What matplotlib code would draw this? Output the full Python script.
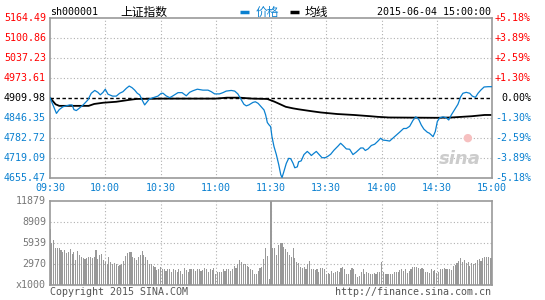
import matplotlib
matplotlib.use("Agg")
import matplotlib.pyplot as plt
import matplotlib.transforms as mtransforms
from matplotlib.lines import Line2D

# ---- data (minutes since 09:30, lunch break removed; 120 = 11:30/13:00) ----
PREV_CLOSE = 4909.98

price_minutes = [0, 2, 3.5, 5, 7, 10.7, 12, 13, 14.3, 16, 18, 20.6, 22.4, 24.3, 26, 27.3,
                 28.8, 30, 31.5, 34, 36, 37.8, 39.6, 41.5, 43, 44.5, 46, 47.4, 48.7, 50,
                 51.4, 52.8, 54, 56.5, 58.6, 60.4, 61.4, 63, 65, 66.8, 69.5, 71.7, 74,
                 75.8, 77.6, 80, 83, 85.8, 87.6, 89.4, 92, 93.9, 95.7, 98.4, 100.3, 102,
                 103.9, 105.3, 106.6, 108, 110.2, 111.5, 113, 114.7, 116.2, 117.1, 118,
                 119, 119.8, 120.5, 121.6, 122.9, 124.2, 125.3, 126, 127, 128.3, 129.6,
                 130.7, 132, 132.9, 134.3, 135, 136.4, 137.9, 139.7, 141, 141.9, 143.3,
                 144.6, 146, 147.7, 149.5, 151, 152.4, 154.2, 156.4, 157.8, 159.1, 160.9,
                 162.7, 164.5, 166.3, 168.7, 170, 171.2, 172.7, 174.5, 176.3, 178.1,
                 179.5, 180.8, 182.5, 184.4, 187.1, 189.8, 192, 193.5, 195.3, 197.1,
                 198.6, 200.2, 201.6, 203, 204.9, 206, 208, 209.2, 210.3, 211.6, 213.4,
                 215.2, 216.5, 217.9, 220.1, 221.5, 223, 224.2, 226, 227.9, 229.3, 231,
                 232.4, 233.9, 235.7, 237.9, 240]
price_values = [4911, 4882, 4861, 4873, 4882, 4888, 4888, 4873, 4870, 4878, 4888, 4904,
                4925, 4934, 4928, 4920, 4928, 4938, 4922, 4916, 4916, 4925, 4930, 4941,
                4948, 4943, 4935, 4925, 4920, 4904, 4888, 4898, 4907, 4912, 4916, 4925,
                4925, 4917, 4911, 4917, 4927, 4927, 4917, 4928, 4933, 4938, 4935, 4935,
                4930, 4923, 4923, 4927, 4932, 4934, 4932, 4923, 4904, 4890, 4885, 4888,
                4896, 4898, 4893, 4882, 4872, 4856, 4832, 4824, 4819, 4788, 4756, 4730,
                4698, 4666, 4657, 4676, 4702, 4718, 4717, 4702, 4688, 4691, 4707, 4710,
                4730, 4740, 4733, 4727, 4734, 4740, 4731, 4720, 4720, 4725, 4731, 4744,
                4757, 4766, 4759, 4748, 4747, 4730, 4738, 4751, 4751, 4743, 4748, 4759,
                4763, 4773, 4782, 4776, 4775, 4773, 4787, 4801, 4813, 4813, 4820, 4839,
                4850, 4842, 4824, 4811, 4801, 4798, 4787, 4803, 4835, 4847, 4850, 4847,
                4840, 4856, 4877, 4890, 4914, 4925, 4928, 4925, 4916, 4912, 4925, 4935,
                4945, 4946, 4946]

avg_minutes = [0, 3, 5, 21, 24, 29, 36, 43, 47, 60, 90, 96, 103, 110, 118, 122, 125,
               128, 132, 135, 142, 147, 156, 165, 174, 178, 184, 210, 218, 229, 236, 240]
avg_values = [4911, 4890, 4885, 4885, 4891, 4895, 4898, 4904, 4907, 4908, 4908, 4911,
              4911, 4908, 4907, 4898, 4890, 4882, 4877, 4874, 4868, 4864, 4859, 4856,
              4852, 4850, 4848, 4847, 4848, 4852, 4856, 4856]

# volume per minute, in thousands (index = minute)
volume = [7.9, 6.0, 6.4, 5.3, 5.3, 5.2, 5.0, 4.6, 5.0, 4.5,
          4.7, 5.1, 4.4, 4.7, 3.6, 4.8, 4.3, 4.0, 3.8, 3.7,
          3.8, 3.9, 3.9, 3.8, 4.0, 5.0, 3.7, 4.2, 4.4, 3.5,
          3.2, 2.9, 4.0, 3.2, 2.9, 3.1, 3.0, 2.7, 2.8, 3.0,
          3.4, 4.1, 4.5, 4.7, 4.7, 4.0, 3.8, 3.5, 3.9, 4.3,
          4.8, 4.3, 3.9, 3.6, 3.0, 2.9, 2.7, 2.5, 2.1, 2.3,
          2.5, 2.3, 2.2, 2.0, 2.3, 2.2, 1.8, 2.3, 2.1, 1.8,
          2.2, 2.0, 1.6, 2.4, 2.1, 1.9, 2.2, 2.2, 2.2, 2.0,
          2.3, 2.2, 2.0, 2.1, 2.4, 2.2, 1.9, 2.3, 2.1, 2.4,
          1.5, 1.8, 1.9, 1.9, 2.2, 2.0, 2.3, 2.2, 2.0, 2.2,
          2.7, 2.4, 3.0, 3.6, 3.2, 3.0, 3.0, 2.7, 2.5, 2.3,
          2.1, 1.6, 1.5, 2.0, 2.4, 2.6, 3.7, 5.2, 4.1, 0.8,
          11.879,
          5.2, 5.2, 4.2, 5.7, 6.0, 5.9, 5.4, 5.1, 4.7, 4.2,
          4.0, 5.2, 3.8, 3.3, 3.1, 2.6, 2.4, 2.5, 2.2, 2.9,
          3.4, 2.3, 2.2, 2.1, 2.2, 1.9, 2.4, 2.4, 2.2, 1.5,
          1.7, 1.6, 2.0, 1.7, 1.8, 2.0, 1.8, 2.4, 2.5, 2.2,
          1.6, 1.6, 2.1, 2.4, 2.2, 1.5, 1.2, 1.3, 1.9, 2.2,
          1.6, 1.8, 1.7, 1.6, 1.6, 1.7, 1.5, 1.8, 1.9, 3.2,
          1.8, 1.5, 1.5, 1.5, 1.5, 1.6, 1.9, 1.9, 1.9, 2.1,
          2.2, 2.0, 2.2, 1.7, 2.0, 2.2, 2.6, 2.5, 2.6, 2.4,
          2.2, 2.4, 2.2, 1.8, 1.9, 1.7, 2.2, 2.0, 2.1, 1.7,
          1.9, 2.2, 2.3, 2.4, 2.2, 2.2, 2.2, 2.1, 2.7, 2.8,
          3.1, 3.4, 3.8, 3.3, 3.6, 3.1, 3.2, 2.7, 3.1, 3.0,
          3.1, 3.5, 3.7, 3.4, 3.8, 3.9, 3.9, 3.9, 3.8, 3.8]

price_levels = [5164.49, 5100.86, 5037.23, 4973.61, 4909.98, 4846.35, 4782.72, 4719.09, 4655.47]
pct_labels = ['+5.18%', '+3.89%', '+2.59%', '+1.30%', '0.00%', '-1.30%', '-2.59%', '-3.89%', '-5.18%']
vol_levels = [11.879, 8.909, 5.939, 2.970, 0]
vol_labels = ['11879', '8909', '5939', '2970', 'x1000']
time_ticks = [0, 30, 60, 90, 120, 150, 180, 210, 240]
time_labels = ['09:30', '10:00', '10:30', '11:00', '11:30', '13:30', '14:00', '14:30', '15:00']

# ---- style ----
RED = '#ff0000'
BLUE = '#0a80d0'
GRAY = '#999999'
GRID = '#b0b0b0'
MONO = 'DejaVu Sans Mono'
CJK = ['Noto Sans CJK SC', 'DejaVu Sans']
FS = 7.2

fig = plt.figure(figsize=(5.45, 3.0), dpi=100)
fig.patch.set_facecolor('white')

ax = fig.add_axes([50 / 545, 1 - 178 / 300, 442 / 545, 160 / 300])
axv = fig.add_axes([50 / 545, 1 - 285 / 300, 442 / 545, 84 / 300])

for a in (ax, axv):
    a.set_xlim(0, 240)
    a.set_xticks([])
    a.set_yticks([])
    for s in a.spines.values():
        s.set_color(GRAY)
        s.set_linewidth(1.2)
    for t in time_ticks[1:-1]:
        a.axvline(t, color=GRID, lw=0.8, ls=(0, (1, 2)), zorder=0)

# main price panel
ax.set_ylim(price_levels[-1], price_levels[0])
for lvl in price_levels[1:-1]:
    if lvl == PREV_CLOSE:
        continue
    ax.axhline(lvl, color=GRID, lw=0.8, ls=(0, (1, 2)), zorder=0)
ax.axhline(PREV_CLOSE, color='black', lw=1.0, ls=(0, (2.5, 1.8)), zorder=1)

ax.plot(price_minutes, price_values, color=BLUE, lw=0.9, zorder=3)
ax.plot(avg_minutes, avg_values, color='black', lw=1.3, zorder=2)

left_tr = mtransforms.blended_transform_factory(fig.transFigure, ax.transData)
for lvl, pct in zip(price_levels, pct_labels):
    if lvl > PREV_CLOSE:
        c = RED
    elif lvl < PREV_CLOSE:
        c = BLUE
    else:
        c = 'black'
    ax.text(46 / 545, lvl, f'{lvl:.2f}', transform=left_tr, ha='right', va='center',
            color=c, fontsize=FS, family=MONO)
    ax.text(531 / 545, lvl, pct, transform=left_tr, ha='right', va='center',
            color=c, fontsize=FS, family=MONO)

# time labels between panels
time_tr = mtransforms.blended_transform_factory(ax.transData, fig.transFigure)
for t, lab in zip(time_ticks, time_labels):
    ax.text(t, 1 - 188 / 300, lab, transform=time_tr, ha='center', va='center',
            color=BLUE, fontsize=FS, family=MONO)

# watermark
ax.text(0.975, 0.12, 'sina', transform=ax.transAxes, ha='right', va='center',
        color='#cccccc', fontsize=13, style='italic', fontweight='bold', zorder=1)
ax.text(0.945, 0.25, '●', transform=ax.transAxes, ha='center', va='center',
        color='#f6c0c0', fontsize=8, zorder=1)

# volume panel
axv.set_ylim(0, vol_levels[0])
for lvl in vol_levels[1:-1]:
    axv.axhline(lvl, color=GRID, lw=0.8, ls=(0, (1, 2)), zorder=0)
axv.bar(range(len(volume)), volume, width=0.6, color=GRAY, linewidth=0, zorder=2)

vol_tr = mtransforms.blended_transform_factory(fig.transFigure, axv.transData)
for lvl, lab in zip(vol_levels, vol_labels):
    axv.text(46 / 545, lvl, lab, transform=vol_tr, ha='right', va='center',
             color='#777777', fontsize=FS, family=MONO)

# header
hy = 1 - 12 / 300
fig.text(50 / 545, hy, 'sh000001', ha='left', va='center', fontsize=FS,
         family=MONO, color='black')
fig.text(120 / 545, hy, '上证指数', ha='left', va='center', fontsize=8.5,
         family=CJK, color='black')
fig.add_artist(Line2D([240 / 545, 249 / 545], [hy, hy], transform=fig.transFigure,
                      color=BLUE, lw=2.5, solid_capstyle='butt'))
fig.text(256 / 545, hy, '价格', ha='left', va='center', fontsize=8.5,
         family=CJK, color=BLUE)
fig.add_artist(Line2D([290 / 545, 299 / 545], [hy, hy], transform=fig.transFigure,
                      color='black', lw=2.5, solid_capstyle='butt'))
fig.text(305 / 545, hy, '均线', ha='left', va='center', fontsize=8.5,
         family=CJK, color='black')
fig.text(491 / 545, hy, '2015-06-04 15:00:00', ha='right', va='center',
         fontsize=FS, family=MONO, color='black')

# footer
fig.text(50 / 545, 1 - 292 / 300, 'Copyright 2015 SINA.COM', ha='left', va='center',
         fontsize=FS, family=MONO, color='#555555')
fig.text(491 / 545, 1 - 292 / 300, 'http://finance.sina.com.cn', ha='right', va='center',
         fontsize=FS, family=MONO, color='#555555')

fig.savefig('out.png', dpi=100)
